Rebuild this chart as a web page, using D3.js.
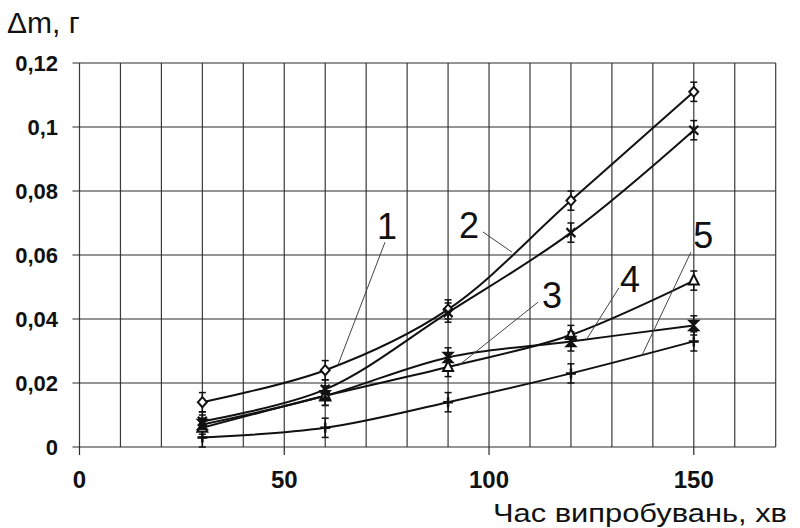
<!DOCTYPE html>
<html>
<head>
<meta charset="utf-8">
<script src="https://cdn.jsdelivr.net/npm/d3@7"></script>
<style>
  html, body { margin: 0; padding: 0; background: #fff; }
  svg { display: block; font-family: Arial, "Liberation Sans", sans-serif; }
</style>
</head>
<body>
<svg id="chart" width="800" height="528"></svg>
<script>
// Test time, min
const times = [30, 60, 90, 120, 150];

// Mass loss, g, for each sample
const series1 = [0.014, 0.024, 0.043, 0.077, 0.111];
const series2 = [0.008, 0.018, 0.042, 0.067, 0.099];
const series3 = [0.006, 0.016, 0.025, 0.035, 0.052];
const series4 = [0.007, 0.016, 0.028, 0.033, 0.038];
const series5 = [0.003, 0.006, 0.014, 0.023, 0.033];

// Half-width of the error bars, g
const errors = [0.003, 0.003, 0.003, 0.003, 0.003];

const seriesNames = ["1", "2", "3", "4", "5"];
const markerKinds = ["diamond", "cross", "triangle", "hourglass", "plus"];

// Tick labels
const xTicks = [0, 50, 100, 150];
const xTickLabels = ["0", "50", "100", "150"];
const yTicks = [0, 0.02, 0.04, 0.06, 0.08, 0.1, 0.12];
const yTickLabels = ["0", "0,02", "0,04", "0,06", "0,08", "0,1", "0,12"];

// Curve labels: text anchor point and leader line ends, in data units
const labelX = [75.1, 95.1, 115.4, 134.4, 152.3];
const labelY = [0.065, 0.0653, 0.0434, 0.0484, 0.0622];
const leaderFromX = [74.6, 98.5, 112.0, 131.7, 149.3];
const leaderFromY = [0.0640, 0.0672, 0.0453, 0.0497, 0.0609];
const leaderToX = [63.1, 105.6, 92.4, 123.9, 137.4];
const leaderToY = [0.0256, 0.0609, 0.0253, 0.0338, 0.0288];

const allSeries = [series1, series2, series3, series4, series5];

const svg = d3.select("#chart");
const margin = { left: 79.5, top: 63, right: 24.3, bottom: 81 };
const W = 800, H = 528;

const x = d3.scaleLinear().domain([0, 170]).range([margin.left, W - margin.right]);
const y = d3.scaleLinear().domain([0, 0.12]).range([H - margin.bottom, margin.top]);

// Grid: vertical every 10 min, horizontal every 0.02 g
const g = svg.append("g");
g.selectAll("line.vg").data(d3.range(0, 171, 10)).join("line")
  .attr("x1", d => x(d)).attr("x2", d => x(d))
  .attr("y1", y(0.12)).attr("y2", y(0))
  .attr("stroke", "#3a3a3a").attr("stroke-width", 1.2);
g.selectAll("line.hg").data(yTicks).join("line")
  .attr("x1", x(0) - 7).attr("x2", x(170))
  .attr("y1", d => y(d)).attr("y2", d => y(d))
  .attr("stroke", "#2a2a2a").attr("stroke-width", 1.2);

// Major x ticks below the axis
g.selectAll("line.xt").data(xTicks).join("line")
  .attr("x1", d => x(d)).attr("x2", d => x(d))
  .attr("y1", y(0)).attr("y2", y(0) + 8)
  .attr("stroke", "#2a2a2a").attr("stroke-width", 1.2);

// Tick labels
svg.selectAll("text.xl").data(xTicks).join("text")
  .attr("x", d => x(d)).attr("y", y(0) + 41)
  .attr("text-anchor", "middle")
  .attr("font-size", 24).attr("font-weight", "bold").attr("fill", "#111")
  .text((d, i) => xTickLabels[i]);
svg.selectAll("text.yl").data(yTicks).join("text")
  .attr("x", 58).attr("y", d => y(d) + 8)
  .attr("text-anchor", "end")
  .attr("font-size", 22).attr("font-weight", "bold").attr("fill", "#111")
  .text((d, i) => yTickLabels[i]);

// Axis titles
svg.append("text").attr("x", 7).attr("y", 33)
  .attr("font-size", 30).attr("fill", "#111").text("Δm, г");
svg.append("text").attr("x", 493).attr("y", 522)
  .attr("font-size", 26).attr("fill", "#111")
  .attr("textLength", 294).attr("lengthAdjust", "spacingAndGlyphs")
  .text("Час випробувань, хв");

// Smoothed curves
const line = d3.line()
  .x((d, i) => x(times[i])).y(d => y(d))
  .curve(d3.curveCatmullRom.alpha(0.5));
svg.selectAll("path.s").data(allSeries).join("path")
  .attr("d", d => line(d))
  .attr("fill", "none").attr("stroke", "#111").attr("stroke-width", 2);

// Error bars
allSeries.forEach((s, si) => {
  const eg = svg.append("g").attr("stroke", "#111").attr("stroke-width", 1.5);
  s.forEach((v, i) => {
    const cx = x(times[i]);
    const y0 = y(v - errors[i]), y1 = y(v + errors[i]);
    eg.append("line").attr("x1", cx).attr("x2", cx).attr("y1", y0).attr("y2", y1);
    eg.append("line").attr("x1", cx - 3.5).attr("x2", cx + 3.5).attr("y1", y0).attr("y2", y0);
    eg.append("line").attr("x1", cx - 3.5).attr("x2", cx + 3.5).attr("y1", y1).attr("y2", y1);
  });
});

// Markers
function drawMarker(sel, kind, cx, cy) {
  if (kind === "diamond") {
    sel.append("path").attr("d", `M${cx},${cy - 5}L${cx + 4.5},${cy}L${cx},${cy + 5}L${cx - 4.5},${cy}Z`)
      .attr("fill", "#fff").attr("stroke", "#111").attr("stroke-width", 2);
  } else if (kind === "cross") {
    sel.append("path").attr("d", `M${cx - 4.5},${cy - 4.5}L${cx + 4.5},${cy + 4.5}M${cx + 4.5},${cy - 4.5}L${cx - 4.5},${cy + 4.5}`)
      .attr("stroke", "#111").attr("stroke-width", 2.2);
  } else if (kind === "triangle") {
    sel.append("path").attr("d", `M${cx},${cy - 6}L${cx + 5},${cy + 4}L${cx - 5},${cy + 4}Z`)
      .attr("fill", "#fff").attr("stroke", "#111").attr("stroke-width", 2);
  } else if (kind === "hourglass") {
    sel.append("path").attr("d", `M${cx - 5},${cy - 5}L${cx + 5},${cy - 5}L${cx - 5},${cy + 5}L${cx + 5},${cy + 5}Z`)
      .attr("fill", "#111").attr("stroke", "#111").attr("stroke-width", 1.5);
  } else if (kind === "plus") {
    sel.append("path").attr("d", `M${cx - 5},${cy}L${cx + 5},${cy}M${cx},${cy - 5}L${cx},${cy + 5}`)
      .attr("stroke", "#111").attr("stroke-width", 2.5);
  }
}
allSeries.forEach((s, si) => {
  const mg = svg.append("g");
  s.forEach((v, i) => drawMarker(mg, markerKinds[si], x(times[i]), y(v)));
});

// Curve numbers with leader lines
seriesNames.forEach((name, i) => {
  svg.append("line")
    .attr("x1", x(leaderFromX[i])).attr("y1", y(leaderFromY[i]))
    .attr("x2", x(leaderToX[i])).attr("y2", y(leaderToY[i]))
    .attr("stroke", "#444").attr("stroke-width", 1);
  svg.append("text")
    .attr("x", x(labelX[i])).attr("y", y(labelY[i]))
    .attr("text-anchor", "middle")
    .attr("font-size", 36).attr("fill", "#111")
    .text(name);
});
</script>
</body>
</html>
